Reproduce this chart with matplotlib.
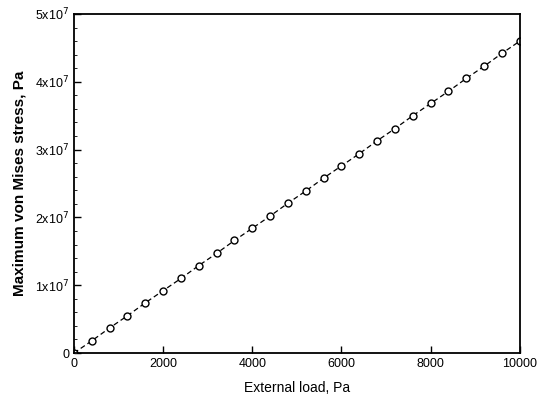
import numpy as np
import matplotlib.pyplot as plt
from matplotlib.ticker import FixedLocator, AutoMinorLocator

plt.rcParams['font.family'] = ['Liberation Sans', 'DejaVu Sans']

load = np.arange(0, 10001, 400)  # Pa
stress = np.array([0.0, 0.18, 0.37, 0.55, 0.74, 0.92, 1.10, 1.29, 1.47, 1.66,
                   1.84, 2.02, 2.21, 2.39, 2.58, 2.76, 2.94, 3.13, 3.31, 3.50,
                   3.68, 3.86, 4.05, 4.23, 4.42, 4.60]) * 1e7  # Pa

yticks = [0, 1e7, 2e7, 3e7, 4e7, 5e7]
ylabels = ['0', r'1x10$^7$', r'2x10$^7$', r'3x10$^7$', r'4x10$^7$', r'5x10$^7$']
xticks = [0, 2000, 4000, 6000, 8000, 10000]

fig = plt.figure(figsize=(5.46, 4.0), dpi=100)
ax = fig.add_axes([0.1355, 0.1175, 0.8165, 0.8475])

ax.plot(load, stress, 'k--', lw=0.9, dashes=(4, 2.5),
        marker='o', ms=5, mfc='white', mec='black', mew=1.0)

ax.set_xlim(0, 10000)
ax.set_ylim(0, 5e7)
ax.set_xticks(xticks)
ax.set_xticklabels([str(t) for t in xticks])
ax.set_yticks(yticks)
ax.set_yticklabels(ylabels)
ax.yaxis.set_minor_locator(AutoMinorLocator(5))
ax.tick_params(which='major', direction='in', length=5, width=1.0,
               labelsize=9, top=False, right=False)
ax.tick_params(which='minor', direction='in', length=2, width=0.6, left=True)
for s in ax.spines.values():
    s.set_linewidth(1.3)

ax.set_xlabel('External load, Pa', fontsize=10, labelpad=8)
ax.set_ylabel('Maximum von Mises stress, Pa', fontsize=11, fontweight='bold', labelpad=6)

fig.savefig('out.png', dpi=100)
